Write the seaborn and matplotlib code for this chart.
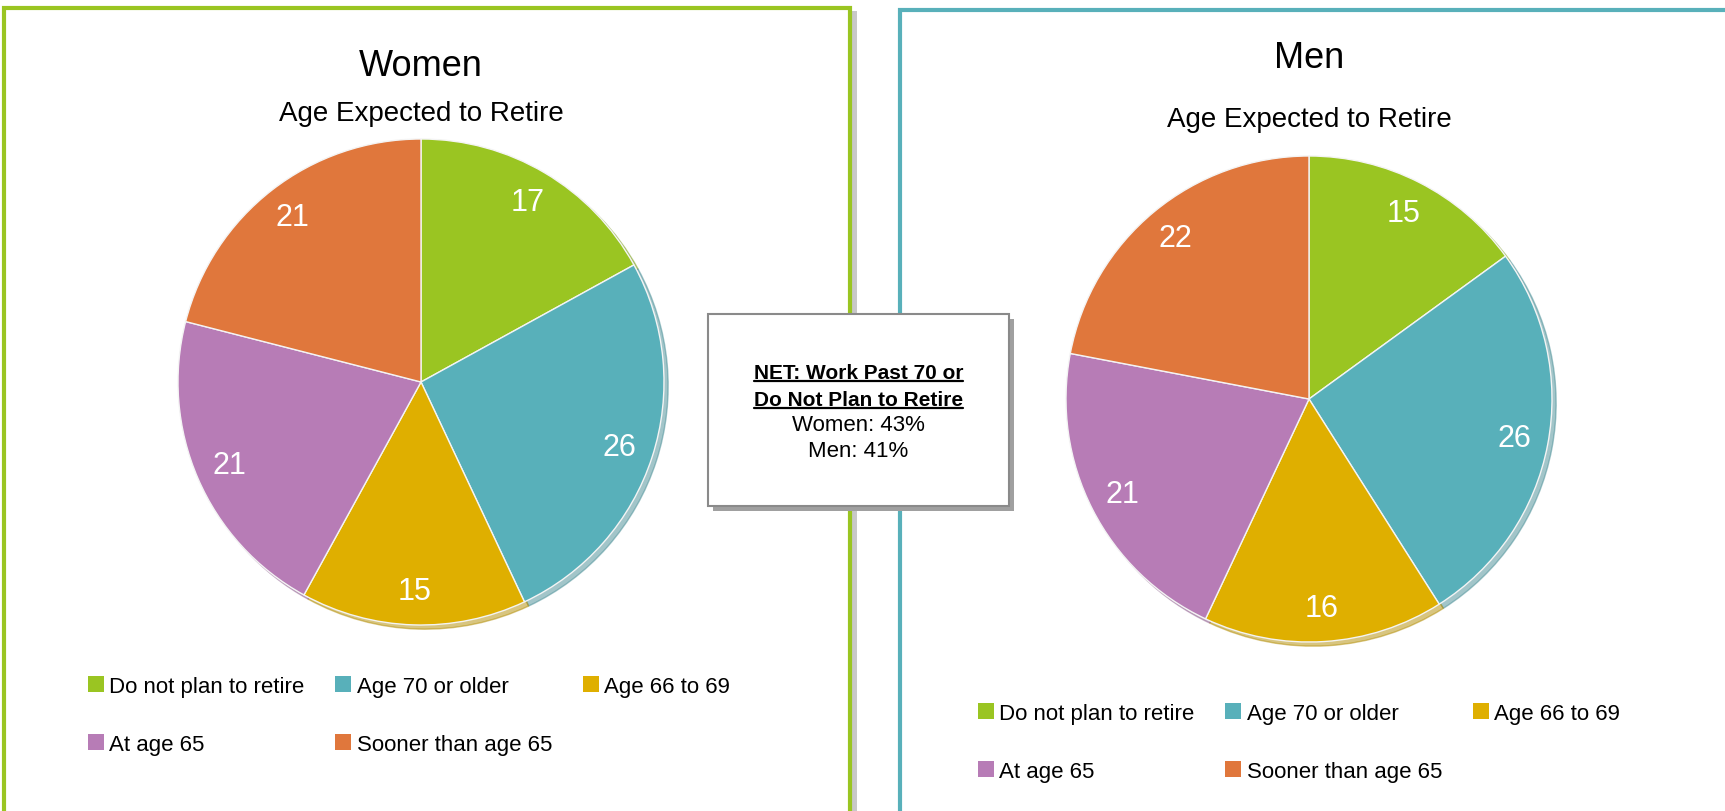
import numpy as np
import pandas as pd
import seaborn as sns
import matplotlib.pyplot as plt
from matplotlib.patches import Rectangle, Patch
from matplotlib.lines import Line2D

# data
categories = ['Do not plan to retire', 'Age 70 or older', 'Age 66 to 69',
              'At age 65', 'Sooner than age 65']
women_vals = [17, 26, 15, 21, 21]
men_vals = [15, 26, 16, 21, 22]
colors = ['#9AC522', '#58B0BA', '#DFAF00', '#B77CB6', '#E0773C']
net_title = ['NET: Work Past 70 or', 'Do Not Plan to Retire']
net_women = 43
net_men = 41

W, H = 1725, 812
sns.set_theme(style='white')
plt.rcParams['font.family'] = ['Liberation Sans', 'DejaVu Sans']
plt.rcParams['text.color'] = 'black'

fig = plt.figure(figsize=(W / 100, H / 100), dpi=100)
fig.patch.set_facecolor('white')
palette = sns.color_palette(colors)


def fx(x):
    return x / W


def fy(y):
    return 1 - y / H


#------------------------------------------------------------------------------
def draw_panel(vals, cx, cy, title, title_y, sub_y, leg_x, leg_y):
    r = 243
    pad = 262
    ax = fig.add_axes([fx(cx - pad), fy(cy + pad), 2 * pad / W, 2 * pad / H])
    ax.pie(vals, colors=palette, startangle=90, counterclock=False, radius=r,
           autopct=lambda p: f'{p:.0f}', pctdistance=0.86,
           wedgeprops=dict(linewidth=1, edgecolor='#f4f4f4'),
           textprops=dict(color='white', fontsize=22),
           shadow={'ox': 3, 'oy': -3, 'shade': 0.2})
    ax.set_xlim(-pad, pad)
    ax.set_ylim(-pad, pad)
    ax.axis('off')

    fig.text(fx(cx), fy(title_y), title, ha='center', va='center', fontsize=26)
    fig.text(fx(cx), fy(sub_y), 'Age Expected to Retire', ha='center',
             va='center', fontsize=20)

    handles = [Patch(facecolor=c, edgecolor='none') for c in palette]
    order = [0, 3, 1, 4, 2]  # row-wise fill for ncol=3
    ax.legend([handles[i] for i in order], [categories[i] for i in order],
              ncol=3, loc='upper left', frameon=False, fontsize=16,
              bbox_to_anchor=(fx(leg_x), fy(leg_y)),
              bbox_transform=fig.transFigure, borderpad=0,
              borderaxespad=0, handlelength=0.7, handleheight=0.7,
              handletextpad=0.25, columnspacing=1.4, labelspacing=1.65)
    return ax


# panel frames
fig.add_artist(Rectangle((fx(851), fy(830)), 6 / W, (830 - 12) / H,
                         transform=fig.transFigure, facecolor='#c8c8c8',
                         edgecolor='none', zorder=0))
fig.add_artist(Rectangle((fx(4), fy(830)), 846 / W, (830 - 9) / H,
                         transform=fig.transFigure, facecolor='none',
                         edgecolor='#9AC522', linewidth=3, zorder=1))
fig.add_artist(Rectangle((fx(900), fy(830)), 840 / W, (830 - 11) / H,
                         transform=fig.transFigure, facecolor='none',
                         edgecolor='#58B0BA', linewidth=3, zorder=1))

draw_panel(women_vals, 421, 383, 'Women', 67, 114, 88, 677)
draw_panel(men_vals, 1309, 400, 'Men', 58, 120, 978, 704)

# NET call-out box
bx0, by0, bx1, by1 = 708, 315, 1009, 507
fig.add_artist(Rectangle((fx(bx0 + 5), fy(by1 + 5)), (bx1 - bx0) / W,
                         (by1 - by0) / H, transform=fig.transFigure,
                         facecolor='#a0a0a0', edgecolor='none', zorder=5))
fig.add_artist(Rectangle((fx(bx0), fy(by1)), (bx1 - bx0) / W, (by1 - by0) / H,
                         transform=fig.transFigure, facecolor='white',
                         edgecolor='#8a8a8a', linewidth=1.5, zorder=6))

cx = (bx0 + bx1) / 2
renderer = fig.canvas.get_renderer()
for line, base in zip(net_title, [379, 406]):
    t = fig.text(fx(cx), fy(base), line, ha='center', va='baseline',
                 fontsize=15, fontweight='bold', zorder=7)
    bb = t.get_window_extent(renderer)
    fig.add_artist(Line2D([bb.x0 / W, bb.x1 / W], [fy(base + 3)] * 2,
                          transform=fig.transFigure, color='black',
                          linewidth=1.6, zorder=7))
fig.text(fx(cx), fy(431), f'Women: {net_women}%', ha='center', va='baseline',
         fontsize=16, zorder=7)
fig.text(fx(cx), fy(457), f'Men: {net_men}%', ha='center', va='baseline',
         fontsize=16, zorder=7)

plt.savefig('out.png', dpi=100)
